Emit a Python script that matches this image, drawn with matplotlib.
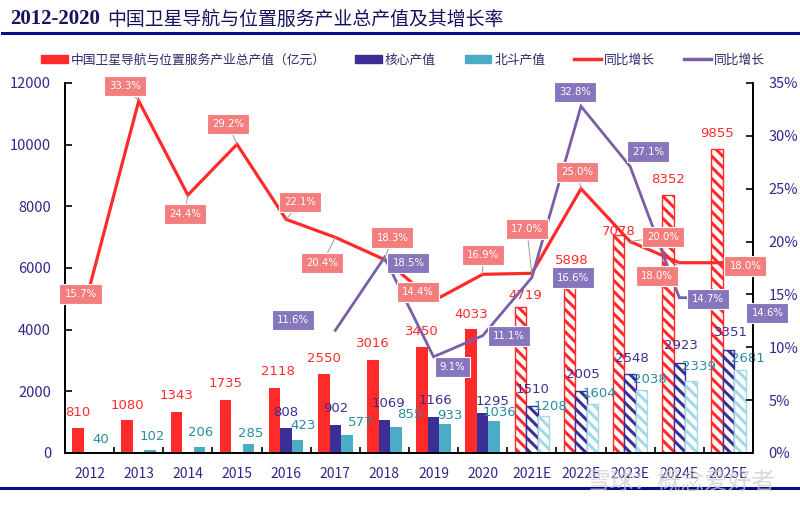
import matplotlib
matplotlib.use("Agg")
import matplotlib.pyplot as plt
import numpy as np
from matplotlib.patches import Patch
from matplotlib.lines import Line2D

plt.rcParams['font.family'] = ['Noto Sans CJK SC', 'DejaVu Sans']
plt.rcParams['hatch.linewidth'] = 2.2

# ---------------- data ----------------
categories = ['2012', '2013', '2014', '2015', '2016', '2017', '2018', '2019', '2020',
              '2021E', '2022E', '2023E', '2024E', '2025E']
total_value = [810, 1080, 1343, 1735, 2118, 2550, 3016, 3450, 4033, 4719, 5898, 7078, 8352, 9855]
core_value = [None, None, None, None, 808, 902, 1069, 1166, 1295, 1510, 2005, 2548, 2923, 3351]
beidou_value = [40, 102, 206, 285, 423, 577, 855, 933, 1036, 1208, 1604, 2038, 2339, 2681]
total_growth = [15.7, 33.3, 24.4, 29.2, 22.1, 20.4, 18.3, 14.4, 16.9, 17.0, 25.0, 20.0, 18.0, 18.0]
core_growth = [None, None, None, None, None, 11.6, 18.5, 9.1, 11.1, 16.6, 32.8, 27.1, 14.7, 14.6]
forecast_from = 9

legend_labels = ['中国卫星导航与位置服务产业总产值（亿元）', '核心产值', '北斗产值', '同比增长', '同比增长']
title_num = '2012-2020'
title_cn = '中国卫星导航与位置服务产业总产值及其增长率'
left_ticks = [0, 2000, 4000, 6000, 8000, 10000, 12000]
right_ticks = [0, 5, 10, 15, 20, 25, 30, 35]

# ---------------- layout / style ----------------
RED = '#ff2b2b'
DBLUE = '#3b2f95'
CYAN = '#4bacc6'
CYAN_H = '#a3d9e6'
PURPLE = '#7a5ea8'
RED_BOX = '#f47e7e'
PUR_BOX = '#8676bd'
TICKC = '#2e2a8c'
TEALTXT = '#2a8c9e'
NAVY = '#0a0a8a'

# label offsets in pixels (dx, dy)
tot_off = [(0, 16), (0, 14), (0, 16), (0, 16), (3, 16), (0, 16), (0, 17), (0, 15), (0, 14),
           (5, 12), (2, 11), (0, 3), (0, 16), (0, 16)]
core_off = [None] * 4 + [(0, 16), (0, 17), (4, 17), (2, 17), (10, 12), (1, 17), (2, 17), (2, 16), (2, 17), (3, 17)]
bd_off = [(0, 12), (2, 13), (1, 14), (2, 11), (5, 14), (14, 13), (14, 12), (5, 9), (5, 9),
          (7, 9), (7, 10), (8, 11), (8, 14), (8, 12)]
tg_off = [(-9, -7), (-14, 15), (-3, -19), (-9, 20), (14, 17), (-13, -26), (8, 22), (-16, 9),
          (0, 19), (-5, 44), (-4, 17), (33, 5), (-22, -13), (17, -3)]
cg_off = [None] * 5 + [(-42, 10), (24, -6), (19, -10), (26, 0), (41, 0), (-6, 14), (18, 15), (29, -1), (39, -14)]

fig = plt.figure(figsize=(8.0, 5.08), dpi=100)
ax = fig.add_axes([65 / 800, 1 - 453 / 508, 688 / 800, 370 / 508])
ax2 = ax.twinx()

x = np.arange(len(categories))
w = 0.234
H = '\\\\\\'

for i in range(len(categories)):
    fc = i >= forecast_from
    if fc:
        ax.bar(x[i] - w, total_value[i], w, facecolor='white', edgecolor=RED, hatch=H, linewidth=1.0, zorder=2)
    else:
        ax.bar(x[i] - w, total_value[i], w, color=RED, zorder=2)
    if core_value[i] is not None:
        if fc:
            ax.bar(x[i], core_value[i], w, facecolor='white', edgecolor=DBLUE, hatch=H, linewidth=1.0, zorder=2)
        else:
            ax.bar(x[i], core_value[i], w, color=DBLUE, zorder=2)
    if fc:
        ax.bar(x[i] + w, beidou_value[i], w, facecolor='white', edgecolor=CYAN_H, hatch=H, linewidth=1.0, zorder=2)
    else:
        ax.bar(x[i] + w, beidou_value[i], w, color=CYAN, zorder=2)

# value labels
for i in range(len(categories)):
    dx, dy = tot_off[i]
    ax.annotate(str(total_value[i]), (x[i] - w, total_value[i]), xytext=(dx, dy), textcoords='offset pixels',
                ha='center', va='center', color=RED, fontsize=9.5, family=['DejaVu Sans'], zorder=5)
    if core_value[i] is not None:
        dx, dy = core_off[i]
        ax.annotate(str(core_value[i]), (x[i], core_value[i]), xytext=(dx, dy), textcoords='offset pixels',
                    ha='center', va='center', color=DBLUE, fontsize=9.5, family=['DejaVu Sans'], zorder=5)
    dx, dy = bd_off[i]
    ax.annotate(str(beidou_value[i]), (x[i] + w, beidou_value[i]), xytext=(dx, dy), textcoords='offset pixels',
                ha='center', va='center', color=TEALTXT, fontsize=9.5, family=['DejaVu Sans'], zorder=5)

# lines
tg = np.array(total_growth, dtype=float)
cg = np.array([np.nan if v is None else v for v in core_growth], dtype=float)
ax2.plot(x, tg, color=RED, lw=2.3, zorder=3, solid_joinstyle='miter')
ax2.plot(x, cg, color=PURPLE, lw=2.0, zorder=3, solid_joinstyle='miter')

for i in range(len(categories)):
    dx, dy = tg_off[i]
    ax2.annotate(f'{total_growth[i]:.1f}%', (x[i], total_growth[i]), xytext=(dx, dy), textcoords='offset pixels',
                 ha='center', va='center', color='white', fontsize=7.3, family=['DejaVu Sans'], zorder=6,
                 bbox=dict(boxstyle='square,pad=0.5', fc=RED_BOX, ec='white', lw=0.8),
                 arrowprops=dict(arrowstyle='-', color='#9a9a9a', lw=0.7, shrinkA=0, shrinkB=0))
    if core_growth[i] is not None:
        dx, dy = cg_off[i]
        ax2.annotate(f'{core_growth[i]:.1f}%', (x[i], core_growth[i]), xytext=(dx, dy), textcoords='offset pixels',
                     ha='center', va='center', color='white', fontsize=7.3, family=['DejaVu Sans'], zorder=6,
                     bbox=dict(boxstyle='square,pad=0.5', fc=PUR_BOX, ec='white', lw=0.8))

# axes styling
ax.set_xlim(-0.5, len(categories) - 0.5)
ax.set_ylim(0, 12000)
ax2.set_ylim(0, 35)
ax.set_yticks(left_ticks)
ax.set_yticklabels([str(t) for t in left_ticks])
ax2.set_yticks(right_ticks)
ax2.set_yticklabels([f'{t}%' for t in right_ticks])
ax.set_xticks(x)
ax.set_xticklabels(categories)
ax.set_xticks(np.arange(len(categories) - 1) + 0.5, minor=True)
ax.tick_params(axis='x', which='major', length=0, pad=10, labelsize=10, labelcolor=TICKC)
ax.tick_params(axis='x', which='minor', length=4, direction='in', width=1.2)
ax.tick_params(axis='y', direction='in', length=5, width=1.2, labelsize=10.5, labelcolor=TICKC, pad=10)
ax2.tick_params(axis='y', direction='in', length=5, width=1.2, labelsize=10.5, labelcolor=TICKC, pad=11)
for a in (ax, ax2):
    a.spines['top'].set_visible(False)
    for s in ('left', 'right', 'bottom'):
        a.spines[s].set_linewidth(1.3)
        a.spines[s].set_color('black')
ax.patch.set_visible(False)

# legend
handles = [Patch(color=RED), Patch(color=DBLUE), Patch(color=CYAN),
           Line2D([], [], color=RED, lw=2.5), Line2D([], [], color=PURPLE, lw=2.5)]
leg = fig.legend(handles, legend_labels, loc='center left', bbox_to_anchor=(41 / 800, 1 - 60 / 508), ncol=5,
                 frameon=False, fontsize=9.2, handlelength=2.1, handleheight=0.6, handletextpad=0.25,
                 columnspacing=2.25, borderaxespad=0, borderpad=0)
for t in leg.get_texts():
    t.set_color('#2b2b6b')

# title & decorations
t1 = fig.text(10 / 800, 1 - 19 / 508, title_num, fontsize=15, fontweight='bold', color='#14145e',
              family=['Liberation Serif'], va='center', ha='left')
fig.canvas.draw()
bb = t1.get_window_extent()
fig.text((bb.x1 + 7) / 800, 1 - 19 / 508, title_cn, fontsize=13.6, fontweight='medium', color='#14145e',
         family=['Noto Sans CJK SC'], va='center', ha='left')
fig.add_artist(Line2D([2 / 800, 1], [1 - 33 / 508, 1 - 33 / 508], color=NAVY, lw=2.2, transform=fig.transFigure))
fig.add_artist(Line2D([0, 1], [1 - 488 / 508, 1 - 488 / 508], color=NAVY, lw=2.2, transform=fig.transFigure))
fig.text(775 / 800, 1 - 482 / 508, '雪球：概念爱好者', fontsize=17, color='#cccccc', alpha=0.75,
         ha='right', va='center')

fig.savefig('out.png', dpi=100)
